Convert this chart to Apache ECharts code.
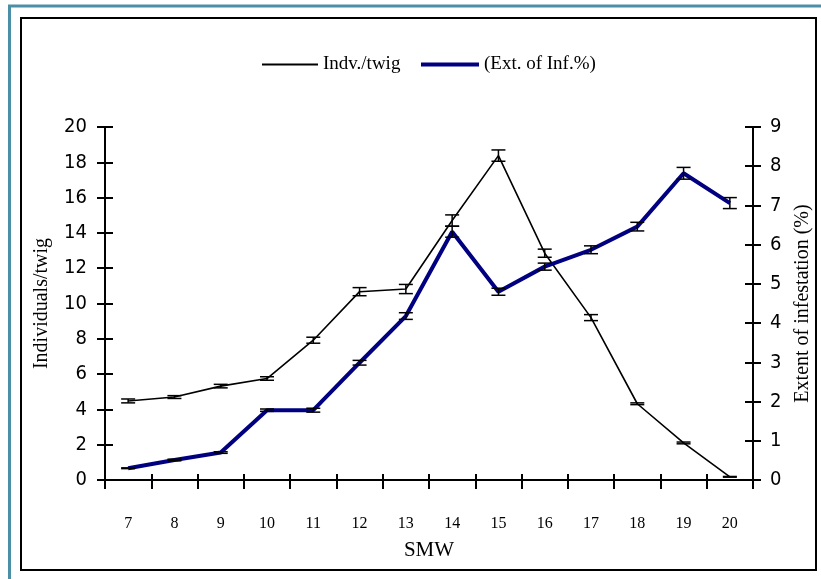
<!DOCTYPE html>
<html>
<head>
<meta charset="utf-8">
<script src="https://cdn.jsdelivr.net/npm/echarts@6/dist/echarts.min.js"></script>
<style>html,body{margin:0;padding:0;background:#fff;}#c{width:821px;height:579px;}</style>
</head>
<body>
<div id="c"></div>
<script>
const categories = ['7','8','9','10','11','12','13','14','15','16','17','18','19','20'];
const indvMean = [4.48, 4.7, 5.32, 5.75, 7.92, 10.67, 10.82, 14.7, 18.38, 12.85, 9.2, 4.32, 2.1, 0.18];
const indvErr  = [0.11, 0.08, 0.1, 0.1, 0.17, 0.23, 0.26, 0.32, 0.32, 0.23, 0.17, 0.05, 0.05, 0.02];
const extMean  = [0.3, 0.51, 0.7, 1.78, 1.78, 2.99, 4.18, 6.33, 4.8, 5.44, 5.87, 6.46, 7.82, 7.06];
const extErr   = [0.01, 0.02, 0.02, 0.03, 0.05, 0.06, 0.085, 0.14, 0.09, 0.09, 0.1, 0.11, 0.15, 0.14];
const leftTicks = {min: 0, max: 20, interval: 2};
const rightTicks = {min: 0, max: 9, interval: 1};

const serif = 'Liberation Serif';
const narrow = '"DejaVu Sans Condensed", "Liberation Sans Narrow", "Liberation Sans", sans-serif';

function errData(mean, err) {
  return mean.map((m, i) => [i, m - err[i], m + err[i]]);
}
function renderErr(params, api) {
  const x = api.value(0);
  const p1 = api.coord([x, api.value(1)]);
  const p2 = api.coord([x, api.value(2)]);
  const w = 7;
  const st = {stroke: '#000', lineWidth: 1.5};
  return {type: 'group', children: [
    {type: 'line', shape: {x1: p1[0], y1: p1[1], x2: p2[0], y2: p2[1]}, style: st},
    {type: 'line', shape: {x1: p1[0] - w, y1: p1[1], x2: p1[0] + w, y2: p1[1]}, style: st},
    {type: 'line', shape: {x1: p2[0] - w, y1: p2[1], x2: p2[0] + w, y2: p2[1]}, style: st}
  ]};
}

const chart = echarts.init(document.getElementById('c'), null, {renderer: 'canvas'});
const axisLineStyle = {color: '#000', width: 2};
chart.setOption({
  backgroundColor: '#fff',
  animation: false,
  graphic: [
    {type: 'polyline', shape: {points: [[9.5, 579], [9.5, 6], [821, 6]]}, style: {stroke: '#4a8fa6', lineWidth: 3, fill: null}},
    {type: 'rect', shape: {x: 21, y: 18, width: 795, height: 552}, style: {stroke: '#000', lineWidth: 2, fill: null}}
  ],
  legend: [
    {data: ['Indv./twig'], left: 257, top: 50, icon: 'rect', itemWidth: 56, itemHeight: 2,
     textStyle: {fontFamily: serif, fontSize: 19, color: '#000'}},
    {data: ['(Ext. of Inf.%)'], left: 416, top: 50, icon: 'rect', itemWidth: 58, itemHeight: 4,
     textStyle: {fontFamily: serif, fontSize: 19, color: '#000'}}
  ],
  grid: {left: 105, right: 68, top: 127, bottom: 99, containLabel: false},
  xAxis: [
    {type: 'category', data: categories, boundaryGap: true, position: 'bottom',
     name: 'SMW', nameLocation: 'middle', nameGap: 60,
     nameTextStyle: {fontFamily: serif, fontSize: 21, color: '#000'},
     axisLine: {lineStyle: axisLineStyle},
     axisTick: {show: true, length: 9, lineStyle: {color: '#000', width: 2}},
     axisLabel: {fontFamily: serif, fontSize: 16, color: '#000', margin: 36},
     splitLine: {show: false}},
    {type: 'category', data: categories, boundaryGap: true, position: 'bottom',
     axisLine: {show: false},
     axisTick: {show: true, inside: true, length: 6, lineStyle: {color: '#000', width: 2}},
     axisLabel: {show: false}, splitLine: {show: false}}
  ],
  yAxis: [
    {type: 'value', position: 'left', min: leftTicks.min, max: leftTicks.max, interval: leftTicks.interval,
     name: 'Individuals/twig', nameLocation: 'middle', nameGap: 53, nameRotate: 90,
     nameTextStyle: {fontFamily: serif, fontSize: 20, color: '#000'},
     axisLine: {show: true, lineStyle: axisLineStyle},
     axisTick: {show: true, length: 8, lineStyle: {color: '#000', width: 2}},
     axisLabel: {fontFamily: narrow, fontSize: 20, color: '#000', margin: 18},
     splitLine: {show: false}},
    {type: 'value', position: 'right', min: rightTicks.min, max: rightTicks.max, interval: rightTicks.interval,
     name: 'Extent of infestation (%)', nameLocation: 'middle', nameGap: 38, nameRotate: 90,
     nameTextStyle: {fontFamily: serif, fontSize: 20, color: '#000'},
     axisLine: {show: true, lineStyle: axisLineStyle},
     axisTick: {show: true, length: 8, lineStyle: {color: '#000', width: 2}},
     axisLabel: {fontFamily: narrow, fontSize: 20, color: '#000', margin: 17},
     splitLine: {show: false}},
    {type: 'value', position: 'left', min: leftTicks.min, max: leftTicks.max, interval: leftTicks.interval,
     axisLine: {show: false}, axisTick: {show: true, inside: true, length: 8, lineStyle: {color: '#000', width: 2}},
     axisLabel: {show: false}, splitLine: {show: false}},
    {type: 'value', position: 'right', min: rightTicks.min, max: rightTicks.max, interval: rightTicks.interval,
     axisLine: {show: false}, axisTick: {show: true, inside: true, length: 8, lineStyle: {color: '#000', width: 2}},
     axisLabel: {show: false}, splitLine: {show: false}}
  ],
  series: [
    {name: 'Indv./twig', type: 'line', xAxisIndex: 0, yAxisIndex: 0, data: indvMean,
     symbol: 'none', lineStyle: {color: '#000', width: 1.6}, itemStyle: {color: '#000'}, z: 3},
    {name: '(Ext. of Inf.%)', type: 'line', xAxisIndex: 0, yAxisIndex: 1, data: extMean,
     symbol: 'none', lineStyle: {color: '#000080', width: 4}, itemStyle: {color: '#000080'}, z: 4},
    {name: 'errIndv', type: 'custom', xAxisIndex: 0, yAxisIndex: 0, data: errData(indvMean, indvErr),
     renderItem: renderErr, encode: {x: 0, y: [1, 2]}, z: 5},
    {name: 'errExt', type: 'custom', xAxisIndex: 0, yAxisIndex: 1, data: errData(extMean, extErr),
     renderItem: renderErr, encode: {x: 0, y: [1, 2]}, z: 5}
  ]
});
</script>
</body>
</html>
